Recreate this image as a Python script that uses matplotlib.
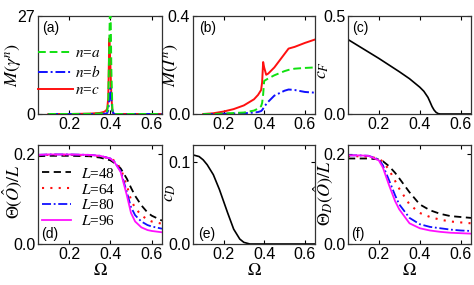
import matplotlib
matplotlib.use("Agg")
import matplotlib.pyplot as plt

plt.rcParams['mathtext.fontset'] = 'stix'
plt.rcParams['font.family'] = ['Liberation Sans', 'DejaVu Sans']

# ---------------- data ----------------
omega_a = [0.10, 0.20, 0.30, 0.35, 0.37, 0.38, 0.385, 0.39, 0.395, 0.40, 0.405, 0.41, 0.415, 0.42, 0.45, 0.50, 0.60, 0.65]
gamma_a = [0.0, 0.0, 0.05, 0.15, 0.3, 0.5, 0.8, 3.0, 20.0, 34.0, 12.0, 1.0, 0.1, 0.0, 0.0, 0.0, 0.0, 0.0]
gamma_b = [0.0, 0.0, 0.0, 0.0, 0.05, 0.1, 0.3, 1.0, 4.0, 7.1, 4.0, 1.0, 0.2, 0.0, 0.0, 0.0, 0.0, 0.0]
gamma_c = [0.0, 0.0, 0.1, 0.3, 0.6, 1.0, 1.5, 4.5, 20.8, 14.0, 5.0, 0.8, 0.1, 0.0, 0.0, 0.0, 0.0, 0.0]

omega_b = [0.10, 0.15, 0.20, 0.25, 0.30, 0.35, 0.37, 0.385, 0.39, 0.395, 0.40, 0.41, 0.42, 0.45, 0.50, 0.52, 0.55, 0.60, 0.65]
I_a = [0.0, 0.0, 0.002, 0.004, 0.006, 0.014, 0.022, 0.032, 0.045, 0.08, 0.135, 0.14, 0.145, 0.158, 0.175, 0.18, 0.185, 0.188, 0.19]
I_b = [0.0, 0.0, 0.001, 0.002, 0.003, 0.006, 0.008, 0.012, 0.016, 0.022, 0.03, 0.04, 0.05, 0.075, 0.095, 0.1, 0.098, 0.09, 0.087]
I_c = [0.0, 0.003, 0.01, 0.02, 0.035, 0.06, 0.078, 0.098, 0.13, 0.212, 0.19, 0.16, 0.165, 0.19, 0.245, 0.267, 0.274, 0.29, 0.304]

omega_c = [0.05, 0.10, 0.15, 0.20, 0.25, 0.30, 0.35, 0.40, 0.42, 0.44, 0.45, 0.46, 0.47, 0.48, 0.49, 0.50, 0.55, 0.65]
c_F = [0.38, 0.348, 0.316, 0.284, 0.25, 0.216, 0.18, 0.137, 0.116, 0.085, 0.062, 0.038, 0.02, 0.008, 0.002, 0.0, 0.0, 0.0]

omega_d = [0.05, 0.10, 0.20, 0.30, 0.35, 0.40, 0.42, 0.45, 0.48, 0.50, 0.52, 0.55, 0.58, 0.60, 0.65]
theta_48 = [0.195, 0.196, 0.196, 0.195, 0.192, 0.186, 0.18, 0.168, 0.145, 0.125, 0.107, 0.086, 0.07, 0.063, 0.052]
theta_64 = [0.197, 0.198, 0.198, 0.197, 0.195, 0.19, 0.185, 0.168, 0.13, 0.098, 0.08, 0.064, 0.054, 0.05, 0.045]
theta_80 = [0.198, 0.199, 0.199, 0.198, 0.196, 0.19, 0.183, 0.162, 0.115, 0.082, 0.064, 0.05, 0.042, 0.039, 0.034]
theta_96 = [0.198, 0.199, 0.199, 0.198, 0.196, 0.19, 0.182, 0.16, 0.108, 0.069, 0.05, 0.037, 0.031, 0.029, 0.026]

omega_e = [0.05, 0.08, 0.10, 0.12, 0.15, 0.18, 0.20, 0.22, 0.25, 0.28, 0.30, 0.33, 0.35, 0.65]
c_D = [0.108, 0.106, 0.102, 0.096, 0.084, 0.066, 0.052, 0.038, 0.018, 0.006, 0.002, 0.0, 0.0, 0.0]

omega_f = [0.05, 0.10, 0.15, 0.20, 0.22, 0.25, 0.28, 0.30, 0.35, 0.40, 0.45, 0.50, 0.55, 0.60, 0.65]
thetaD_48 = [0.19, 0.19, 0.19, 0.188, 0.184, 0.173, 0.158, 0.146, 0.115, 0.088, 0.075, 0.067, 0.062, 0.06, 0.058]
thetaD_64 = [0.195, 0.195, 0.194, 0.19, 0.183, 0.165, 0.14, 0.123, 0.088, 0.069, 0.06, 0.054, 0.05, 0.048, 0.046]
thetaD_80 = [0.197, 0.197, 0.196, 0.188, 0.175, 0.142, 0.108, 0.088, 0.058, 0.044, 0.038, 0.035, 0.032, 0.03, 0.029]
thetaD_96 = [0.197, 0.197, 0.196, 0.186, 0.17, 0.131, 0.095, 0.077, 0.046, 0.035, 0.03, 0.027, 0.025, 0.024, 0.023]

# ---------------- layout ----------------
W, H = 474, 285
fig = plt.figure(figsize=(W / 100, H / 100), dpi=100)

def make_ax(x0, y0, x1, y1):
    ax = fig.add_axes([x0 / W, 1 - y1 / H, (x1 - x0) / W, (y1 - y0) / H])
    ax.tick_params(direction='in', top=True, right=True, length=3, width=0.8,
                   labelsize=11.5, pad=2)
    for s in ax.spines.values():
        s.set_color('#333333')
        s.set_linewidth(0.9)
    ax.set_xlim(0.05, 0.65)
    ax.set_xticks([0.2, 0.4, 0.6])
    ax.set_xticklabels(['0.2', '0.4', '0.6'])
    return ax

label_kw = dict(fontsize=13)
panel_kw = dict(fontsize=10, family=['Liberation Sans', 'DejaVu Sans'])
leg_prop = {'family': 'Liberation Serif', 'size': 11}

GREEN = '#10e010'
RED = '#ff1010'
BLUE = '#1010ff'
MAG = '#ff10ff'

# (a)
ax = make_ax(38, 16, 162, 114)
ax.plot(omega_a, gamma_c, color=RED, lw=1.4, ls='-', label=r'$n$=$c$', zorder=2)
ax.plot(omega_a, gamma_b, color=BLUE, lw=1.4, ls=(0, (5, 1.5, 1, 1.5)), label=r'$n$=$b$', zorder=3)
ax.plot(omega_a, gamma_a, color=GREEN, lw=1.4, ls=(0, (4, 2)), label=r'$n$=$a$', zorder=4)
ax.set_ylim(0, 27)
ax.set_yticks([0, 27])
ax.set_ylabel(r'$M(\gamma^n)$', **label_kw)
ax.yaxis.set_label_coords(-0.11, 0.5)
ax.text(0.035, 0.95, '(a)', transform=ax.transAxes, va='top', ha='left', **panel_kw)
h, l = ax.get_legend_handles_labels()
ax.legend(h[::-1], l[::-1], loc='center left', bbox_to_anchor=(0.0, 0.43), frameon=False,
          borderaxespad=0, borderpad=0, handlelength=2.3, handletextpad=0.1,
          labelspacing=0.25, prop=leg_prop)

# (b)
ax = make_ax(193, 16, 315, 114)
ax.plot(omega_b, I_c, color=RED, lw=1.4, ls='-')
ax.plot(omega_b, I_b, color=BLUE, lw=1.4, ls=(0, (5, 1.5, 1, 1.5)))
ax.plot(omega_b, I_a, color=GREEN, lw=1.4, ls=(0, (4, 2)))
ax.set_ylim(0, 0.4)
ax.set_yticks([0.0, 0.4])
ax.set_yticklabels(['0.0', '0.4'])
ax.set_ylabel(r'$M(I^n)$', **label_kw)
ax.yaxis.set_label_coords(-0.11, 0.5)
ax.text(0.05, 0.95, '(b)', transform=ax.transAxes, va='top', ha='left', **panel_kw)

# (c)
ax = make_ax(348, 16, 471, 114)
ax.plot(omega_c, c_F, color='black', lw=1.2)
ax.set_ylim(0, 0.5)
ax.set_yticks([0.0, 0.5])
ax.set_yticklabels(['0.0', '0.5'])
ax.set_ylabel(r'$c_F$', **label_kw)
ax.yaxis.set_label_coords(-0.14, 0.45)
ax.text(0.033, 0.95, '(c)', transform=ax.transAxes, va='top', ha='left', **panel_kw)

# (d)
ax = make_ax(38, 145, 162, 244)
ax.plot(omega_d, theta_48, color='black', lw=1.3, ls=(0, (4, 2.5)), label=r'$L$=48')
ax.plot(omega_d, theta_64, color=RED, lw=1.5, ls=(0, (1, 3)), label=r'$L$=64')
ax.plot(omega_d, theta_80, color=BLUE, lw=1.3, ls=(0, (5, 1.5, 1, 1.5)), label=r'$L$=80')
ax.plot(omega_d, theta_96, color=MAG, lw=1.3, ls='-', label=r'$L$=96')
ax.set_ylim(0, 0.22)
ax.set_yticks([0.0, 0.2])
ax.set_yticklabels(['0.0', '0.2'])
ax.set_ylabel(r'$\Theta(\hat{O})/L$', **label_kw)
ax.yaxis.set_label_coords(-0.11, 0.53)
ax.set_xlabel(r'$\Omega$', labelpad=0, **label_kw)
ax.text(0.025, 0.03, '(d)', transform=ax.transAxes, va='bottom', ha='left', **panel_kw)
ax.legend(loc='center left', bbox_to_anchor=(0.03, 0.47), frameon=False,
          borderaxespad=0, borderpad=0, handlelength=1.9, handletextpad=0.7,
          labelspacing=0.12, prop=leg_prop)

# (e)
ax = make_ax(193, 145, 315, 244)
ax.plot(omega_e, c_D, color='black', lw=1.2)
ax.set_ylim(0, 0.12)
ax.set_yticks([0.0, 0.1])
ax.set_yticklabels(['0.0', '0.1'])
ax.set_ylabel(r'$c_D$', **label_kw)
ax.yaxis.set_label_coords(-0.12, 0.52)
ax.set_xlabel(r'$\Omega$', labelpad=0, **label_kw)
ax.text(0.04, 0.03, '(e)', transform=ax.transAxes, va='bottom', ha='left', **panel_kw)

# (f)
ax = make_ax(348, 145, 471, 244)
ax.plot(omega_f, thetaD_48, color='black', lw=1.3, ls=(0, (4, 2.5)))
ax.plot(omega_f, thetaD_64, color=RED, lw=1.5, ls=(0, (1, 3)))
ax.plot(omega_f, thetaD_80, color=BLUE, lw=1.3, ls=(0, (5, 1.5, 1, 1.5)))
ax.plot(omega_f, thetaD_96, color=MAG, lw=1.3, ls='-')
ax.set_ylim(0, 0.22)
ax.set_yticks([0.0, 0.2])
ax.set_yticklabels(['0.0', '0.2'])
ax.set_ylabel(r'$\Theta_D(\hat{O})/L$', **label_kw)
ax.yaxis.set_label_coords(-0.106, 0.51)
ax.set_xlabel(r'$\Omega$', labelpad=0, **label_kw)
ax.text(0.025, 0.03, '(f)', transform=ax.transAxes, va='bottom', ha='left', **panel_kw)

fig.savefig('out.png', dpi=100)
